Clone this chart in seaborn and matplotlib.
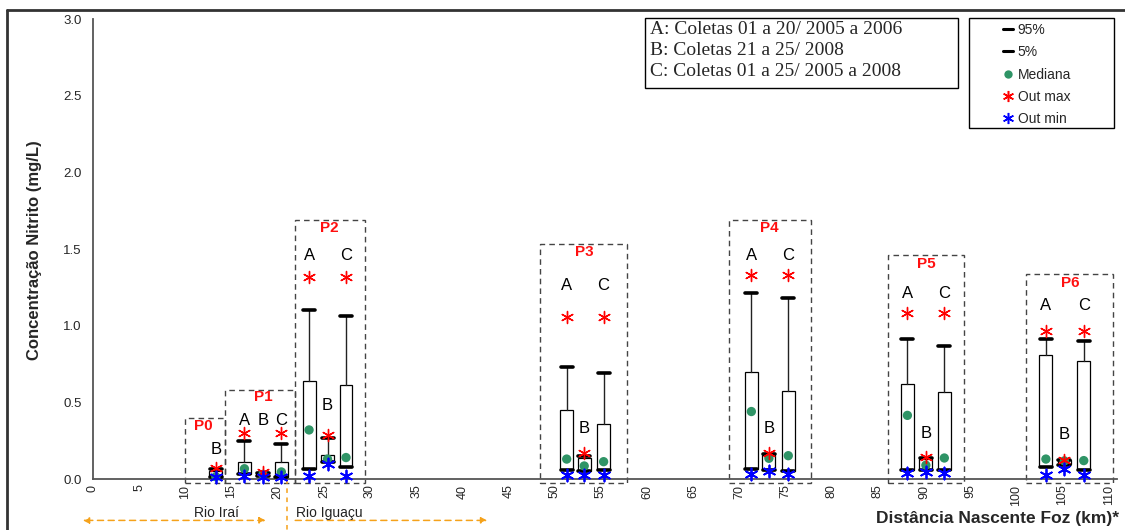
import matplotlib
matplotlib.use("Agg")
import matplotlib.pyplot as plt
from matplotlib.patches import Rectangle
from matplotlib.lines import Line2D
import seaborn as sns
import pandas as pd

# ---------------- data ----------------
positions = [13.3, 16.4, 18.4, 20.4, 23.4, 25.4, 27.4, 51.3, 53.2, 55.3,
             71.3, 73.2, 75.3, 88.2, 90.2, 92.2, 103.2, 105.2, 107.3]
letters   = ['B', 'A', 'B', 'C', 'A', 'B', 'C', 'A', 'B', 'C',
             'A', 'B', 'C', 'A', 'B', 'C', 'A', 'B', 'C']
p5     = [0.010, 0.030, 0.020, 0.015, 0.063, 0.110, 0.076, 0.059, 0.054, 0.057,
          0.063, 0.059, 0.054, 0.059, 0.059, 0.059, 0.080, 0.090, 0.059]
q1     = [0.010, 0.030, 0.020, 0.015, 0.063, 0.113, 0.076, 0.059, 0.054, 0.057,
          0.063, 0.059, 0.054, 0.059, 0.059, 0.059, 0.080, 0.095, 0.065]
median = [0.015, 0.067, 0.030, 0.046, 0.320, 0.130, 0.140, 0.130, 0.085, 0.113,
          0.440, 0.135, 0.152, 0.415, 0.090, 0.137, 0.130, 0.118, 0.120]
q3     = [0.050, 0.113, 0.040, 0.110, 0.640, 0.157, 0.610, 0.450, 0.140, 0.357,
          0.700, 0.157, 0.576, 0.620, 0.130, 0.566, 0.810, 0.125, 0.770]
p95    = [0.063, 0.250, 0.040, 0.230, 1.100, 0.270, 1.060, 0.730, 0.150, 0.690,
          1.210, 0.160, 1.180, 0.910, 0.140, 0.870, 0.915, 0.125, 0.900]
out_max = [0.070, 0.300, 0.048, 0.300, 1.320, 0.290, 1.320, 1.055, 0.170, 1.055,
           1.330, 0.170, 1.330, 1.080, 0.145, 1.080, 0.965, 0.125, 0.965]
out_min = [0.010, 0.020, 0.010, 0.010, 0.020, 0.098, 0.020, 0.024, 0.024, 0.024,
           0.035, 0.052, 0.030, 0.037, 0.048, 0.041, 0.028, 0.063, 0.026]
letter_y = [0.19, 0.38, 0.38, 0.38, 1.46, 0.48, 1.46, 1.26, 0.33, 1.26,
            1.46, 0.33, 1.46, 1.21, 0.30, 1.21, 1.13, 0.29, 1.13]

groups   = ['P0', 'P1', 'P2', 'P3', 'P4', 'P5', 'P6']
group_x0 = [10.0, 14.3, 21.9, 48.4, 68.9, 86.1, 101.0]
group_x1 = [14.3, 21.9, 29.5, 57.8, 77.8, 94.3, 110.5]
group_top = [0.40, 0.58, 1.69, 1.53, 1.69, 1.46, 1.34]
group_label_x = [12.0, 18.4, 25.6, 53.2, 73.2, 90.2, 105.8]
group_label_y = [0.345, 0.535, 1.64, 1.48, 1.64, 1.40, 1.28]

legend_notes = ["A: Coletas 01 a 20/ 2005 a 2006",
                "B: Coletas 21 a 25/ 2008",
                "C: Coletas 01 a 25/ 2005 a 2008"]
legend_labels = ["95%", "5%", "Mediana", "Out max", "Out min"]
xticks = list(range(0, 111, 5))
yticks = [0.0, 0.5, 1.0, 1.5, 2.0, 2.5, 3.0]

# ---------------- figure ----------------
sns.set_style("white")
plt.rcParams['font.family'] = ['Liberation Sans', 'DejaVu Sans']

W, H = 1125, 530
fig = plt.figure(figsize=(W / 100, H / 100), dpi=100)
def fx(px): return px / W
def fy(py): return 1 - py / H

ax = fig.add_axes([fx(93), fy(479), (1117 - 93) / W, (479 - 19) / H])
ax.set_xlim(0, 110.9)
ax.set_ylim(0, 3.0)

# boxes
stats = [dict(med=m, q1=a, q3=b, whislo=lo, whishi=hi, fliers=[])
         for m, a, b, lo, hi in zip(median, q1, q3, p5, p95)]
ax.bxp(stats, positions=positions, widths=1.4, showfliers=False,
       patch_artist=True, manage_ticks=False,
       boxprops=dict(facecolor='white', edgecolor='black', linewidth=0.9),
       whiskerprops=dict(color='#222222', linewidth=1.0),
       capprops=dict(color='black', linewidth=2.6),
       medianprops=dict(linewidth=0), capwidths=1.3, zorder=3)

df = pd.DataFrame(dict(pos=positions, med=median, omax=out_max, omin=out_min))
ast = (6, 2, 0)
sns.scatterplot(data=df, x='pos', y='med', color='#2f9466', s=45,
                edgecolor='none', ax=ax, zorder=5, legend=False, clip_on=False)
sns.scatterplot(data=df, x='pos', y='omax', color='red', marker=ast, s=75,
                linewidth=1.0, ax=ax, zorder=6, legend=False, clip_on=False)
sns.scatterplot(data=df, x='pos', y='omin', color='blue', marker=ast, s=75,
                linewidth=1.3, ax=ax, zorder=6, legend=False, clip_on=False)

# letters
for x, y, t in zip(positions, letter_y, letters):
    ax.text(x, y, t, ha='center', va='center', fontsize=12, color='black')

# group dashed boxes and labels
for g, x0, x1, top, lx, ly in zip(groups, group_x0, group_x1, group_top,
                                  group_label_x, group_label_y):
    ax.add_patch(Rectangle((x0, -0.026), x1 - x0, top + 0.026, fill=False,
                           edgecolor='#444444', linestyle=(0, (4, 3)),
                           linewidth=1.0, clip_on=False, zorder=2))
    ax.text(lx, ly, g, ha='center', va='center', fontsize=11,
            fontweight='bold', color='#ff1010')

# axes styling
ax.set_xticks(xticks)
ax.set_xticklabels([str(v) for v in xticks], rotation=90, fontsize=9)
ax.set_yticks(yticks)
ax.set_yticklabels([f"{v:.1f}" for v in yticks], fontsize=9.5)
ax.tick_params(axis='y', direction='inout', length=8, width=1, color='#333333', pad=4)
ax.tick_params(axis='x', direction='inout', length=4, width=0.8, color='#333333', pad=2)
for s in ['top', 'right']:
    ax.spines[s].set_visible(False)
for s in ['left', 'bottom']:
    ax.spines[s].set_color('#555555')
    ax.spines[s].set_linewidth(1.3)
ax.set_xlabel('')
ax.set_ylabel('')

# river annotations below axis
orange = '#f5a21b'
ax.annotate('', xy=(-1.4, -0.27), xytext=(19.0, -0.27), xycoords='data',
            arrowprops=dict(arrowstyle='<|-|>', color=orange, linestyle=(0, (4, 3)),
                            linewidth=1.1, mutation_scale=9), annotation_clip=False)
ax.annotate('', xy=(43.0, -0.27), xytext=(21.6, -0.27), xycoords='data',
            arrowprops=dict(arrowstyle='-|>', color=orange, linestyle=(0, (4, 3)),
                            linewidth=1.1, mutation_scale=9), annotation_clip=False)
ax.plot([21.0, 21.0], [0.06, -0.34], color=orange, linestyle=(0, (3, 3)),
        linewidth=1.1, clip_on=False)
ax.text(13.4, -0.22, 'Rio Iraí', ha='center', va='center', fontsize=10, color='#222222')
ax.text(25.6, -0.22, 'Rio Iguaçu', ha='center', va='center', fontsize=10, color='#222222')

# axis titles
fig.text(fx(35), fy(250), 'Concentração Nitrito (mg/L)', rotation=90,
         ha='center', va='center', fontsize=12, fontweight='bold')
fig.text(fx(1119), fy(518), 'Distância Nascente Foz (km)*', ha='right',
         va='center', fontsize=12.5, fontweight='bold')

# notes box (left legend)
fig.patches.append(Rectangle((fx(645), fy(88)), fx(958) - fx(645), fy(18) - fy(88),
                             transform=fig.transFigure, fill=False,
                             edgecolor='black', linewidth=1.0))
for i, t in enumerate(legend_notes):
    fig.text(fx(650), fy(30 + 20.5 * i), t, ha='left', va='center',
             fontsize=14, family='Liberation Serif')

# symbol legend (right)
fig.patches.append(Rectangle((fx(969), fy(128)), fx(1114) - fx(969), fy(18) - fy(128),
                             transform=fig.transFigure, fill=False,
                             edgecolor='black', linewidth=1.0))
handles = [Line2D([], [], color='black', lw=2.2),
           Line2D([], [], color='black', lw=2.2),
           Line2D([], [], color='#2f9466', marker='o', ls='none', markersize=6,
                  markeredgecolor='none'),
           Line2D([], [], color='red', marker=ast, ls='none', markersize=8, mew=1.1),
           Line2D([], [], color='blue', marker=ast, ls='none', markersize=8, mew=1.1)]
fig.legend(handles, legend_labels, loc='upper left',
           bbox_to_anchor=(fx(1003), fy(23)), frameon=False, fontsize=10,
           handlelength=0.7, handletextpad=0.35, labelspacing=0.6,
           borderpad=0.0, borderaxespad=0.0)

# outer frame (top and left)
fig.add_artist(Line2D([fx(7), 1.0], [fy(10), fy(10)], transform=fig.transFigure,
                      color='#333333', linewidth=2))
fig.add_artist(Line2D([fx(7), fx(7)], [fy(10), 0.0], transform=fig.transFigure,
                      color='#333333', linewidth=2))

fig.savefig('out.png', dpi=100)
